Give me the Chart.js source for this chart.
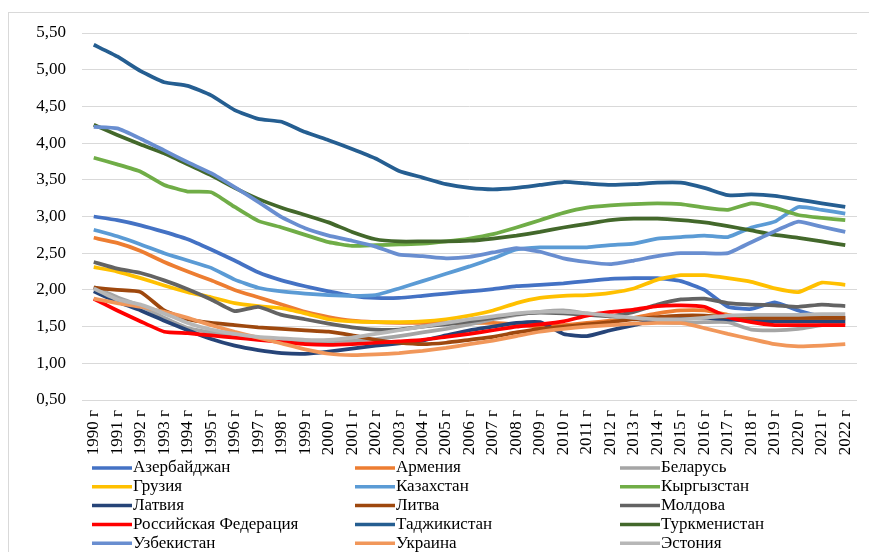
<!DOCTYPE html>
<html>
<head>
<meta charset="utf-8">
<script src="https://cdn.jsdelivr.net/npm/chart.js@4/dist/chart.umd.min.js"></script>
<style>
  html, body { margin: 0; padding: 0; background: #fff; }
  #wrap { width: 869px; height: 552px; position: relative; }
</style>
</head>
<body>
<div id="wrap"><canvas id="lifeChart" width="869" height="552"></canvas></div>
<script>
const years = ["1990 г", "1991 г", "1992 г", "1993 г", "1994 г", "1995 г", "1996 г", "1997 г", "1998 г",
  "1999 г", "2000 г", "2001 г", "2002 г", "2003 г", "2004 г", "2005 г", "2006 г", "2007 г", "2008 г",
  "2009 г", "2010 г", "2011 г", "2012 г", "2013 г", "2014 г", "2015 г", "2016 г", "2017 г", "2018 г",
  "2019 г", "2020 г", "2021 г", "2022 г"];

const countries = ["Азербайджан", "Армения", "Беларусь", "Грузия", "Казахстан", "Кыргызстан",
  "Латвия", "Литва", "Молдова", "Российская Федерация", "Таджикистан", "Туркменистан",
  "Узбекистан", "Украина", "Эстония"];

const colors = ["#4472C4", "#ED7D31", "#A5A5A5", "#FFC000", "#5B9BD5", "#70AD47",
  "#264478", "#9E480E", "#636363", "#FF0000", "#255E91", "#43682B",
  "#698ED0", "#F1975A", "#B7B7B7"];

const azerbaijan = [3.00, 2.95, 2.88, 2.79, 2.69, 2.55, 2.40, 2.24, 2.13, 2.05, 1.98, 1.92, 1.89, 1.89, 1.92, 1.95, 1.98, 2.01, 2.05, 2.07, 2.09, 2.12, 2.15, 2.16, 2.16, 2.12, 2.00, 1.77, 1.74, 1.83, 1.72, 1.64, 1.62];
const armenia = [2.71, 2.64, 2.53, 2.38, 2.25, 2.13, 2.00, 1.90, 1.80, 1.70, 1.63, 1.58, 1.56, 1.55, 1.55, 1.55, 1.55, 1.55, 1.53, 1.50, 1.52, 1.55, 1.58, 1.62, 1.68, 1.72, 1.72, 1.66, 1.60, 1.60, 1.60, 1.60, 1.60];
const belarus = [2.04, 1.90, 1.78, 1.62, 1.48, 1.42, 1.38, 1.34, 1.32, 1.30, 1.30, 1.31, 1.33, 1.37, 1.42, 1.47, 1.53, 1.60, 1.66, 1.70, 1.72, 1.68, 1.64, 1.60, 1.56, 1.55, 1.56, 1.56, 1.46, 1.45, 1.47, 1.52, 1.55];
const georgia = [2.31, 2.25, 2.16, 2.06, 1.97, 1.90, 1.82, 1.78, 1.75, 1.68, 1.60, 1.57, 1.56, 1.56, 1.57, 1.60, 1.65, 1.72, 1.82, 1.89, 1.92, 1.93, 1.96, 2.02, 2.14, 2.20, 2.20, 2.16, 2.11, 2.02, 1.97, 2.10, 2.07];
const kazakhstan = [2.82, 2.73, 2.62, 2.50, 2.40, 2.30, 2.14, 2.03, 1.98, 1.95, 1.93, 1.92, 1.93, 2.02, 2.12, 2.22, 2.32, 2.43, 2.55, 2.58, 2.58, 2.58, 2.61, 2.63, 2.70, 2.72, 2.74, 2.72, 2.85, 2.93, 3.13, 3.09, 3.04];
const kyrgyzstan = [3.80, 3.71, 3.61, 3.43, 3.34, 3.33, 3.13, 2.94, 2.85, 2.75, 2.65, 2.60, 2.61, 2.62, 2.63, 2.66, 2.70, 2.76, 2.85, 2.95, 3.05, 3.12, 3.15, 3.17, 3.18, 3.17, 3.12, 3.09, 3.18, 3.12, 3.02, 2.98, 2.95];
const latvia = [1.98, 1.84, 1.72, 1.58, 1.45, 1.33, 1.24, 1.18, 1.14, 1.13, 1.16, 1.20, 1.24, 1.27, 1.31, 1.38, 1.45, 1.50, 1.55, 1.56, 1.40, 1.37, 1.45, 1.52, 1.60, 1.62, 1.62, 1.60, 1.58, 1.57, 1.57, 1.57, 1.57];
const lithuania = [2.03, 2.00, 1.97, 1.72, 1.60, 1.55, 1.52, 1.49, 1.47, 1.45, 1.43, 1.38, 1.32, 1.28, 1.26, 1.28, 1.32, 1.36, 1.42, 1.47, 1.50, 1.53, 1.56, 1.60, 1.63, 1.65, 1.65, 1.63, 1.62, 1.62, 1.62, 1.62, 1.62];
const moldova = [2.38, 2.29, 2.23, 2.13, 2.01, 1.87, 1.71, 1.77, 1.66, 1.60, 1.54, 1.49, 1.46, 1.46, 1.50, 1.53, 1.57, 1.62, 1.67, 1.69, 1.68, 1.66, 1.64, 1.70, 1.80, 1.87, 1.88, 1.82, 1.80, 1.79, 1.77, 1.80, 1.78];
const russia = [1.88, 1.72, 1.57, 1.43, 1.41, 1.38, 1.35, 1.32, 1.29, 1.26, 1.25, 1.26, 1.28, 1.30, 1.32, 1.36, 1.40, 1.45, 1.50, 1.53, 1.57, 1.65, 1.70, 1.73, 1.78, 1.79, 1.77, 1.63, 1.56, 1.52, 1.52, 1.52, 1.52];
const tajikistan = [5.34, 5.18, 4.98, 4.83, 4.78, 4.65, 4.45, 4.33, 4.29, 4.15, 4.04, 3.92, 3.79, 3.62, 3.53, 3.44, 3.39, 3.37, 3.39, 3.43, 3.47, 3.45, 3.43, 3.44, 3.46, 3.46, 3.39, 3.29, 3.30, 3.28, 3.23, 3.18, 3.13];
const turkmenistan = [4.25, 4.11, 3.98, 3.86, 3.71, 3.56, 3.39, 3.24, 3.12, 3.02, 2.92, 2.79, 2.69, 2.66, 2.66, 2.66, 2.67, 2.70, 2.74, 2.79, 2.85, 2.90, 2.95, 2.97, 2.97, 2.95, 2.92, 2.87, 2.81, 2.75, 2.71, 2.66, 2.61];
const uzbekistan = [4.22, 4.20, 4.06, 3.90, 3.74, 3.59, 3.40, 3.20, 2.99, 2.84, 2.74, 2.67, 2.59, 2.48, 2.46, 2.43, 2.45, 2.51, 2.57, 2.52, 2.43, 2.38, 2.35, 2.40, 2.46, 2.50, 2.50, 2.50, 2.65, 2.80, 2.93, 2.86, 2.79];
const ukraine = [1.88, 1.82, 1.77, 1.70, 1.62, 1.52, 1.43, 1.35, 1.27, 1.19, 1.13, 1.11, 1.12, 1.14, 1.17, 1.21, 1.26, 1.31, 1.37, 1.43, 1.47, 1.50, 1.52, 1.54, 1.55, 1.55, 1.48, 1.40, 1.33, 1.26, 1.23, 1.24, 1.26];
const estonia = [2.02, 1.87, 1.80, 1.68, 1.55, 1.46, 1.40, 1.36, 1.34, 1.32, 1.32, 1.35, 1.40, 1.45, 1.50, 1.55, 1.60, 1.64, 1.68, 1.70, 1.70, 1.68, 1.65, 1.62, 1.60, 1.60, 1.62, 1.65, 1.66, 1.66, 1.66, 1.67, 1.67];

const seriesValues = [azerbaijan, armenia, belarus, georgia, kazakhstan, kyrgyzstan, latvia,
  lithuania, moldova, russia, tajikistan, turkmenistan, uzbekistan, ukraine, estonia];

const serif = "'Liberation Serif', 'Times New Roman', serif";

// legend in 3 columns under the axis, like the Excel original
const gridLegend = {
  id: "gridLegend",
  afterDraw(chart) {
    const ctx = chart.ctx;
    const colX = [92, 355, 620];
    ctx.save();
    ctx.font = "17px " + serif;
    ctx.textBaseline = "middle";
    chart.data.datasets.forEach((ds, i) => {
      const x = colX[i % 3];
      const y = 468 + Math.floor(i / 3) * 18.8;
      ctx.strokeStyle = ds.borderColor;
      ctx.lineWidth = 3.5;
      ctx.beginPath();
      ctx.moveTo(x, y);
      ctx.lineTo(x + 40, y);
      ctx.stroke();
      ctx.fillStyle = "#000";
      ctx.fillText(ds.label, x + 41, y);
    });
    ctx.restore();
  }
};

const frame = {
  id: "frame",
  beforeDraw(chart) {
    const ctx = chart.ctx;
    ctx.save();
    ctx.strokeStyle = "#d9d9d9";
    ctx.lineWidth = 1;
    ctx.strokeRect(8.5, 12.5, 880, 560);
    ctx.restore();
  }
};

const ctx = document.getElementById("lifeChart").getContext("2d");

new Chart(ctx, {
  type: "line",
  data: {
    labels: years,
    datasets: countries.map((name, i) => ({
      label: name,
      data: seriesValues[i],
      borderColor: colors[i],
      backgroundColor: colors[i],
      borderWidth: 3.75,
      pointRadius: 0,
      tension: 0.15,
      fill: false,
      order: countries.length - i
    }))
  },
  options: {
    responsive: false,
    animation: false,
    layout: {
      padding: { left: 0, right: 12, top: 33, bottom: 87 }
    },
    plugins: {
      legend: { display: false },
      tooltip: { enabled: false }
    },
    scales: {
      x: {
        offset: true,
        grid: { display: false },
        border: { display: false },
        ticks: {
          minRotation: 90,
          maxRotation: 90,
          autoSkip: false,
          padding: 2,
          color: "#000",
          font: { family: serif, size: 17 }
        },
        afterFit(scale) { scale.height = 65; }
      },
      y: {
        min: 0.5,
        max: 5.5,
        grid: { color: "#d9d9d9", lineWidth: 1, drawTicks: false },
        border: { display: false },
        ticks: {
          stepSize: 0.5,
          padding: 16,
          color: "#000",
          font: { family: serif, size: 17 },
          callback: v => v.toFixed(2).replace(".", ",")
        },
        afterFit(scale) { scale.width = 82; }
      }
    }
  },
  plugins: [frame, gridLegend]
});
</script>
</body>
</html>
